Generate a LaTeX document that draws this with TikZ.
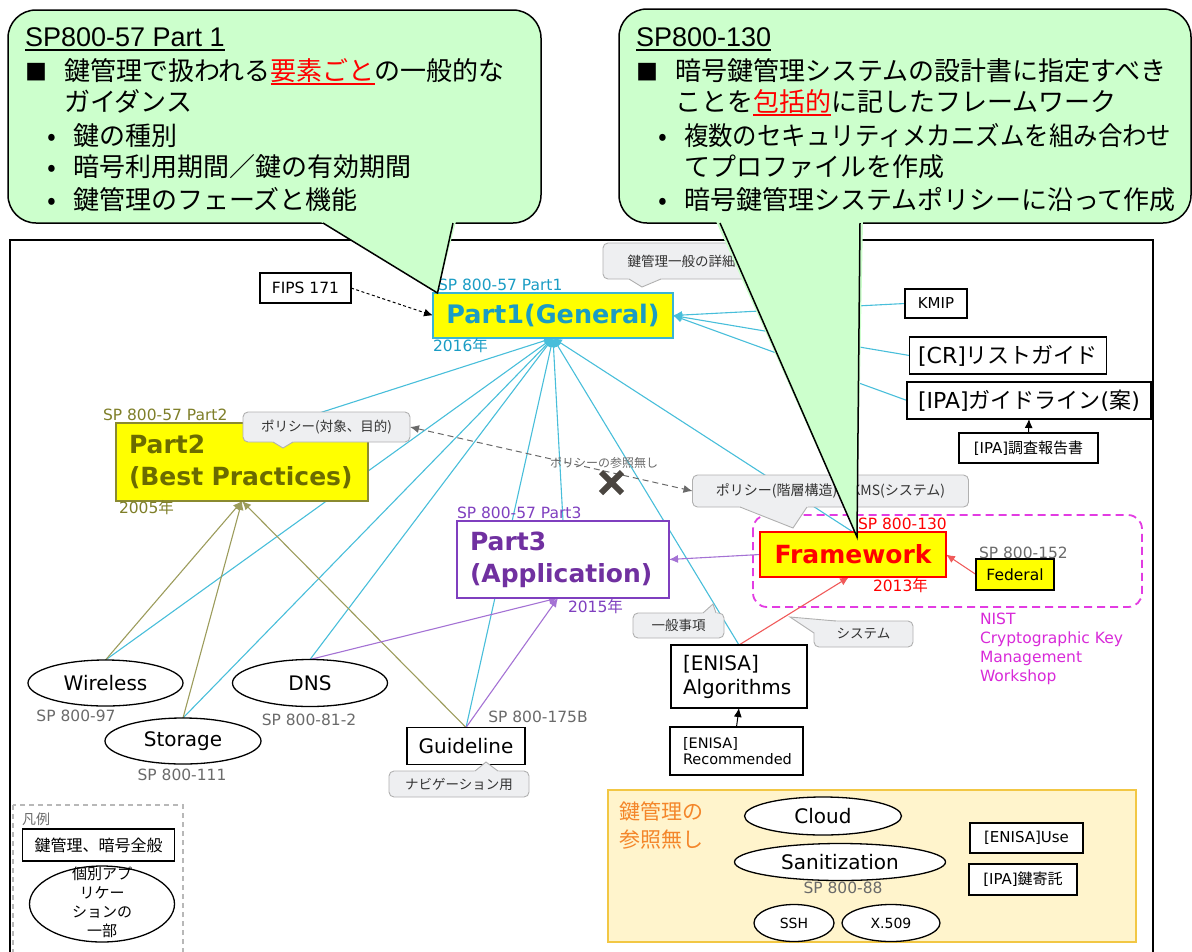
\documentclass[tikz,border=0pt]{standalone}
\usepackage{fontspec}
\usepackage{graphicx}
\setmainfont{DejaVu Sans}
\newfontfamily\jp{Noto Sans CJK JP}
\newfontfamily\lib{Liberation Sans}
\usetikzlibrary{arrows.meta,shapes.geometric,calc}
\pgfdeclarelayer{bg}
\pgfsetlayers{bg,main}
\newcommand{\fsz}[2]{\fontsize{#1}{#2}\selectfont}
\newcommand{\myul}[1]{\setbox0\hbox{#1}\rlap{\rule[-4.5pt]{\wd0}{1.6pt}}\box0}
\definecolor{tealc}{HTML}{48BEDA}
\definecolor{tealb}{HTML}{3AB4D4}
\definecolor{tealt}{HTML}{1A9CC4}
\definecolor{olivet}{HTML}{6B6B00}
\definecolor{oliveb}{HTML}{8A8A30}
\definecolor{olivelab}{HTML}{7E7E28}
\definecolor{olivel}{HTML}{9C9C5C}
\definecolor{purt}{HTML}{7030A0}
\definecolor{purb}{HTML}{7F3FBF}
\definecolor{purl}{HTML}{A472D4}
\definecolor{redt}{HTML}{FF0000}
\definecolor{redl}{HTML}{F05A5A}
\definecolor{mag}{HTML}{E23CE2}
\definecolor{magt}{HTML}{D82AD8}
\definecolor{cgreen}{HTML}{CCFFCC}
\definecolor{bubf}{HTML}{EEEFF1}
\definecolor{bubd}{HTML}{B0B0B0}
\definecolor{bubt}{HTML}{333333}
\definecolor{grayt}{HTML}{6A6A6A}
\definecolor{ylw}{HTML}{FFFF00}
\definecolor{panelf}{HTML}{FFF4CC}
\definecolor{paneld}{HTML}{F2C744}
\definecolor{oranget}{HTML}{F4862A}
\definecolor{xgray}{HTML}{4A4540}
\definecolor{legd}{HTML}{B8B8B8}
\begin{document}
\begin{tikzpicture}[x=1pt,y=-1pt,
  every node/.style={inner sep=0pt, outer sep=0pt},
  box/.style={draw=black, line width=1.3pt, fill=white, align=center},
  ell/.style={ellipse, draw=black, line width=1.3pt, fill=white},
  bub/.style={draw=bubd, line width=0.9pt, fill=bubf, rounded corners=5pt, font=\jp\fsz{13.5}{16}, text=bubt},
  tl/.style={draw=tealc, line width=1.1pt},
  ol/.style={draw=olivel, line width=1.1pt},
  pl/.style={draw=purl, line width=1.1pt},
  rl/.style={draw=redl, line width=1.1pt},
  arr/.style={-{Latex[length=9pt,width=8pt]}},
  sp/.style={text=grayt, font=\fsz{15.5}{18}},
  cl/.style={anchor=base west, font=\jp\fsz{26}{30}},
  clb/.style={anchor=base, font=\jp\fsz{26}{30}},
  tailf/.style={fill=bubf},
  taild/.style={draw=bubd, line width=0.9pt},
  callout/.style={fill=cgreen, draw=black, line width=1.5pt, rounded corners=28pt},
]
\useasboundingbox (0,0) rectangle (1192,951);

% ---------- main nodes ----------
\node[box, draw=tealb, line width=1.5pt, fill=ylw, minimum width=240, minimum height=45, font=\bfseries\fsz{25.5}{30}, text=tealt] (p1) at (553,315.5) {Part1(General)};
\node[anchor=west, text=tealt, font=\fsz{15.5}{18}] (p1lab) at (438,285) {SP 800-57 Part1};
\node[anchor=west, text=tealt, font=\fsz{15.5}{18}] (p1yr) at (433,346) {2016{\jp 年}};

\node[box, draw=oliveb, fill=ylw, minimum width=252, minimum height=78, text width=226, inner xsep=13, align=left, font=\bfseries\fsz{25}{32}, text=olivet] (p2) at (242,462) {Part2\\(Best Practices)};
\node[anchor=west, text=olivelab, font=\fsz{15.5}{18}] (p2lab) at (103,415) {SP 800-57 Part2};
\node[anchor=west, text=olivelab, font=\fsz{15.5}{18}] (p2yr) at (119,508) {2005{\jp 年}};

\node[box, draw=purb, minimum width=212, minimum height=77, text width=186, inner xsep=13, align=left, font=\bfseries\fsz{25}{32}, text=purt] (p3) at (563,559.5) {Part3\\(Application)};
\node[anchor=west, text=purb, font=\fsz{15.5}{18}] (p3lab) at (457,513) {SP 800-57 Part3};
\node[anchor=west, text=purb, font=\fsz{15.5}{18}] (p3yr) at (568,607) {2015{\jp 年}};

\node[box, draw=redt, line width=1.5pt, fill=ylw, minimum width=186, minimum height=45, font=\bfseries\fsz{25}{30}, text=redt] (fw) at (853,554.5) {Framework};
\node[anchor=west, text=redt, font=\fsz{15.5}{18}] (fwlab) at (858,524) {SP 800-130};
\node[anchor=west, text=redt, font=\fsz{15.5}{18}] (fwyr) at (873,586) {2013{\jp 年}};

\node[box, fill=ylw, minimum width=78, minimum height=31, font=\fsz{15.5}{18}] (fed) at (1015,574.5) {Federal};
\node[anchor=west, sp] (fedlab) at (979,553) {SP 800-152};
\node[anchor=north west, align=left, text=magt, font=\fsz{15.5}{19}] (nist) at (980,613) {NIST\\Cryptographic Key\\Management\\Workshop};

\node[box, minimum width=91, minimum height=30, font=\fsz{15.5}{18}] (fips) at (305.5,288) {FIPS 171};
\node[box, minimum width=62, minimum height=29, font=\fsz{15}{18}] (kmip) at (936,303.5) {KMIP};
\node[box, minimum width=197, minimum height=37, font=\fsz{22}{26}] (cr) at (1008,355.5) {[CR]{\jp リストガイド}};
\node[box, minimum width=244, minimum height=37, font=\fsz{22}{26}] (ipa) at (1029,400.5) {[IPA]{\jp ガイドライン}({\jp 案})};
\node[box, minimum width=139, minimum height=30, font=\fsz{15}{18}] (ipar) at (1028.5,448) {[IPA]{\jp 調査報告書}};

\node[box, minimum width=136, minimum height=63, text width=112, inner xsep=12, align=left, font=\fsz{20}{24}] (enalg) at (739,676.5) {[ENISA]\\Algorithms};
\node[box, minimum width=133, minimum height=48, text width=107, inner xsep=13, align=left, font=\fsz{14.5}{16}] (enrec) at (736.5,751) {[ENISA]\\Recommended};

\node[ell, minimum width=155, minimum height=46, font=\fsz{20}{24}] (wl) at (105.5,683) {Wireless};
\node[ell, minimum width=156, minimum height=46, font=\fsz{20}{24}] (st) at (183,741) {Storage};
\node[ell, minimum width=155, minimum height=47, font=\fsz{20}{24}] (dns) at (310,683) {DNS};
\node[box, minimum width=118, minimum height=37, font=\fsz{20}{24}] (guide) at (466,746) {Guideline};
\node[sp] (wllab) at (76,716) {SP 800-97};
\node[sp] (stlab) at (182,775) {SP 800-111};
\node[sp] (dnslab) at (309,720) {SP 800-81-2};
\node[sp] (guidelab) at (538,717) {SP 800-175B};

% ---------- bubbles ----------
\node[bub, minimum width=157, minimum height=36] (bgen) at (681.5,261) {鍵管理一般の詳細};
\fill[tailf] (628,278) -- (642,287) -- (662,278) -- cycle;
\draw[taild] (629,279) -- (642,287) -- (661,279);

\node[bub, minimum width=167, minimum height=30] (pol1) at (326.5,427) {ポリシー(対象、目的)};
\fill[tailf] (272,441) -- (283,448) -- (294,441) -- cycle;
\draw[taild] (273,442) -- (283,448) -- (293,442);

\node[bub, minimum width=276, minimum height=32, font=\jp\fsz{14}{16}] (pol2) at (830.5,491) {ポリシー(階層構造)、KMS(システム)};
\fill[tailf] (739,506) -- (793,528) -- (808,506) -- cycle;
\draw[taild] (740,507) -- (793,528) -- (807,507);

\node[bub, minimum width=91, minimum height=25] (bjk) at (678.5,625.5) {一般事項};
\fill[tailf] (702,614) -- (713,604) -- (717,614) -- cycle;
\draw[taild] (703,613) -- (713,604) -- (716,613);

\node[bub, minimum width=99, minimum height=26] (bsys) at (863.5,634) {システム};
\fill[tailf] (814,633) -- (790,617) -- (837,621.5) -- (822,627) -- cycle;
\draw[taild] (814,633) -- (790,617) -- (836,621);

\node[bub, minimum width=140, minimum height=26] (bnav) at (459,784) {ナビゲーション用};
\fill[tailf] (474,772) -- (486,762) -- (499,772) -- cycle;
\draw[taild] (475,771) -- (486,762) -- (498,771);

\node[text=grayt, font=\jp\fsz{12}{14}] (nolab) at (604,463) {ポリシーの参照無し};

% ---------- legend ----------
\node[anchor=west, text=grayt, font=\jp\fsz{14}{16}] (lgt) at (22,819) {凡例};
\node[box, minimum width=152, minimum height=32, font=\jp\fsz{16}{18}] (lgbox) at (98.5,845) {鍵管理、暗号全般};
\node[ell, minimum width=145, minimum height=76] (lgell) at (102,904) {};
\node[align=center, font=\jp\fsz{15}{19}] (lgtxt) at (102,902) {個別アプ\\リケー\\ションの\\一部};

% ---------- panel ----------
\node[anchor=north west, align=left, text=oranget, font=\jp\fsz{21}{28}] (nref) at (619,802) {鍵管理の\\参照無し};
\node[ell, minimum width=157, minimum height=38, font=\fsz{20}{24}] (cloud) at (823,816) {Cloud};
\node[ell, minimum width=211, minimum height=37, font=\fsz{20}{24}] (san) at (840,862) {Sanitization};
\node[sp] (sanlab) at (843,888) {SP 800-88};
\node[ell, minimum width=80, minimum height=37, font=\fsz{14}{16}] (ssh) at (794,923) {SSH};
\node[ell, minimum width=98, minimum height=37, font=\fsz{14}{16}] (x509) at (891,923) {X.509};
\node[box, minimum width=113, minimum height=30, font=\fsz{15}{18}] (enuse) at (1026.5,838) {[ENISA]Use};
\node[box, minimum width=108, minimum height=31, font=\fsz{15}{18}] (ipak) at (1023,879.5) {[IPA]{\jp 鍵寄託}};

% ---------- background: frame, groups, connectors ----------
\begin{pgfonlayer}{bg}
\draw[line width=1.5pt] (10,965) -- (10,240) -- (1153,240) -- (1153,965);
\draw[mag, line width=1.8pt, dash pattern=on 8pt off 5pt, rounded corners=14pt] (753,515) rectangle (1142,607);
\filldraw[fill=panelf, draw=paneld, line width=1.5pt] (608,790) rectangle (1136,942);
\draw[legd, line width=1.3pt, dash pattern=on 5pt off 4pt] (13,805) rectangle (183,965);

\foreach \n in {wl, st, dns, guide, enalg, p3, fw}
  \draw[tl, arr] (\n.north) -- (p1.south);
\draw[tl, arr] ([xshift=46pt]p2.north) -- (p1.south);
\foreach \n in {kmip, cr, ipa}
  \draw[tl, arr] (\n.west) -- (p1.east);

\foreach \n in {wl, st, guide}
  \draw[ol, arr] (\n.north) -- (p2.south);

\draw[pl, arr] (dns.north) -- ([xshift=-5pt]p3.south);
\draw[pl, arr] (guide.north) -- ([xshift=-5pt]p3.south);
\draw[pl, arr] (fw.west) -- (p3.east);

\draw[rl, arr] (fed.west) -- (fw.east);
\draw[rl, arr] (enalg.north) -- ([xshift=-4pt]fw.south);

\draw[line width=1pt, arr] (enrec.north) -- (enalg.south);
\draw[line width=1pt, arr] (ipar.north) -- (ipa.south);
\draw[line width=1pt, dash pattern=on 3pt off 2.5pt, arr] (fips.east) -- (p1.west);
\draw[grayt, line width=1pt, dash pattern=on 6pt off 4pt, {Latex[length=9pt,width=8pt]}-{Latex[length=9pt,width=8pt]}] (pol1.east) -- (pol2.west);
\end{pgfonlayer}

\draw[xgray, line width=6pt] (601,472) -- (622,493) (601,493) -- (622,472);

% ---------- callouts ----------
\filldraw[callout] (8,10) rectangle (541,223);
\fill[cgreen] (320,221.3) -- (437.5,293) -- (456,221.3) -- cycle;
\draw[line width=1.5pt, line join=miter] (323,223) -- (437.5,293) -- (453,223);

\filldraw[callout] (619,9) rectangle (1191,223);
\fill[cgreen] (716,221.3) -- (857,537) -- (863,221.3) -- cycle;
\draw[line width=1.5pt] (720,223) -- (857,537) -- (860,223);

\node[anchor=base west, font=\lib\fsz{27}{30}] (c1t) at (25,46) {\myul{SP800-57 Part 1}};
\node[anchor=base west, font=\jp\fsz{22}{30}] (c1sq) at (25,80) {■};
\node[cl] (c1a) at (64,80) {鍵管理で扱われる{\color{redt}\myul{要素ごと}}の一般的な};
\node[cl] (c1b) at (64,111) {ガイダンス};
\node[clb] (c1d1) at (52,145) {•};
\node[cl] (c1c) at (73,145) {鍵の種別};
\node[clb] (c1d2) at (52,176) {•};
\node[cl] (c1d) at (73,176) {暗号利用期間／鍵の有効期間};
\node[clb] (c1d3) at (52,209) {•};
\node[cl] (c1e) at (73,209) {鍵管理のフェーズと機能};

\node[anchor=base west, font=\lib\fsz{27}{30}] (c2t) at (636,46) {\myul{SP800-130}};
\node[anchor=base west, font=\jp\fsz{22}{30}] (c2sq) at (636,80) {■};
\node[cl] (c2a) at (675,80) {暗号鍵管理システムの設計書に指定すべき};
\node[cl] (c2b) at (675,111) {ことを{\color{redt}\myul{包括的}}に記したフレームワーク};
\node[clb] (c2d1) at (663,145) {•};
\node[cl] (c2c) at (684,145) {\scalebox{0.94}[1]{複数のセキュリティメカニズムを組み合わせ}};
\node[cl] (c2d) at (684,176) {てプロファイルを作成};
\node[clb] (c2d2) at (663,209) {•};
\node[cl] (c2e) at (684,209) {暗号鍵管理システムポリシーに沿って作成};
\end{tikzpicture}
\end{document}
